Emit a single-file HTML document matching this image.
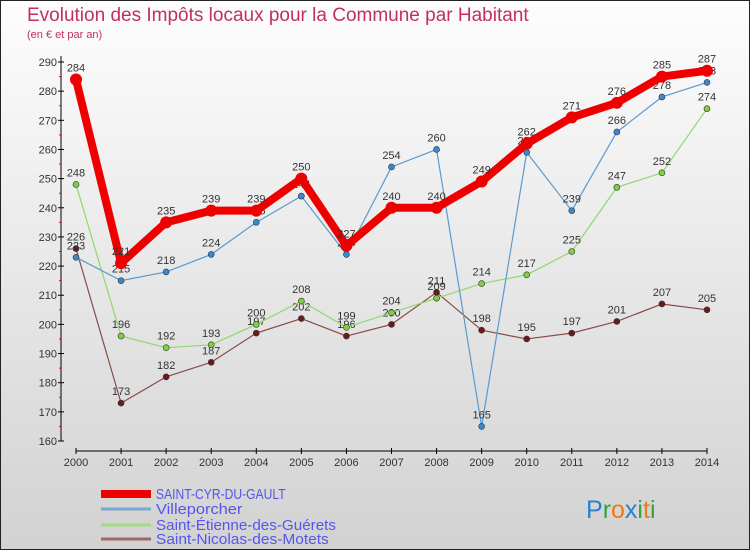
<!DOCTYPE html>
<html><head><meta charset="utf-8"><style>
body{margin:0}
#c{width:750px;height:550px;position:relative;box-sizing:border-box;border:1px solid #222;background:linear-gradient(#fdfdfd,#d2d2d2);font-family:"Liberation Sans",sans-serif;overflow:hidden}
.t{position:absolute;left:26px;top:4px;font-size:19px;color:#c03060}
.s{position:absolute;left:26px;top:28px;font-size:11px;color:#c03060}
svg{position:absolute;left:0;top:0}
</style></head><body>
<div id="c">
<div class="t">Evolution des Impôts locaux pour la Commune par Habitant</div>
<div class="s">(en € et par an)</div>
<svg id="svg" width="750" height="550"></svg>
</div>
<script>
const years=[2000,2001,2002,2003,2004,2005,2006,2007,2008,2009,2010,2011,2012,2013,2014];
const sCyr=[284,221,235,239,239,250,227,240,240,249,262,271,276,285,287];
const sVil=[223,215,218,224,235,244,224,254,260,165,259,239,266,278,283];
const sEti=[248,196,192,193,200,208,199,204,209,214,217,225,247,252,274];
const sNic=[226,173,182,187,197,202,196,200,211,198,195,197,201,207,205];
const yTicks=[160,170,180,190,200,210,220,230,240,250,260,270,280,290];
const names=["SAINT-CYR-DU-GAULT","Villeporcher","Saint-Étienne-des-Guérets","Saint-Nicolas-des-Motets"];
const svg=document.getElementById('svg'),NS='http://www.w3.org/2000/svg';
const X=i=>75+i*(706-75)/(years.length-1);
const Y=v=>440-(v-160)*(440-61)/130;
function mk(t,a,p){const e=document.createElementNS(NS,t);for(const k in a)e.setAttribute(k,a[k]);(p||svg).appendChild(e);return e;}
const ax=mk('g',{});


mk('line',{x1:60,y1:55,x2:60,y2:440,stroke:'#000'},ax);
mk('line',{x1:75,y1:450,x2:706,y2:450,stroke:'#000'},ax);
yTicks.forEach(v=>{mk('line',{x1:57,x2:63,y1:Y(v),y2:Y(v),stroke:'#000'},ax);
 if(v<290)mk('line',{x1:58,x2:60,y1:Y(v+5),y2:Y(v+5),stroke:'#e00'},ax);
 const t=mk('text',{x:56,y:Y(v)+4,'text-anchor':'end','font-size':11,fill:'#333'},ax);t.textContent=v;
 });
years.forEach((y,i)=>{mk('line',{x1:X(i),x2:X(i),y1:447,y2:453,stroke:'#000'},ax);
 const t=mk('text',{x:X(i),y:465,'text-anchor':'middle','font-size':11,fill:'#333'},ax);t.textContent=y;
 });
function series(d,col,w,r,dot,name){const g=mk('g',{});
 
 mk('polyline',{points:d.map((v,i)=>X(i)+','+Y(v)).join(' '),fill:'none',stroke:col,'stroke-width':w,'stroke-linejoin':'round'},g);
 d.forEach((v,i)=>{const c=mk('circle',{cx:X(i),cy:Y(v),r:r,fill:dot,stroke:'#333','stroke-width':w>3?0:0.6},g);
  
  const t=mk('text',{x:X(i),y:Y(v)-8,'text-anchor':'middle','font-size':11,fill:'#333'},g);t.textContent=v;
  });}
series(sNic,'#8b4a4a',1.2,3,'#6a1a1a','series-saint-nicolas');
series(sEti,'#90d870',1.2,3,'#80d040','series-saint-etienne');
series(sVil,'#5a9ad0',1.2,3,'#3a88d0','series-villeporcher');
series(sCyr,'#ee0000',8,6,'#ee0000','series-saint-cyr');
const cols=['#ee0000','#7aa8d0','#a0dc80','#a06868'],ws=[8,3,3,3],ly=[493,508,524,538];
names.forEach((n,i)=>{const g=mk('g',{});
 mk('line',{x1:100,x2:150,y1:ly[i],y2:ly[i],stroke:cols[i],'stroke-width':ws[i]},g);
 const t=mk('text',{x:155,y:ly[i]+5,'font-size':15,fill:'#5555ee',textLength:n.length*7.2,lengthAdjust:'spacingAndGlyphs'},g);t.textContent=n;});
const lg=mk('text',{x:585,y:517,'font-size':25});

[['P','#2a80d0'],['r','#3aa040'],['o','#f07a10'],['x','#2a80d0'],['i','#3aa040'],['t','#f07a10'],['i','#3aa040']].forEach(([c,f])=>{const s=mk('tspan',{fill:f},lg);s.textContent=c;});
</script>
</body></html>
